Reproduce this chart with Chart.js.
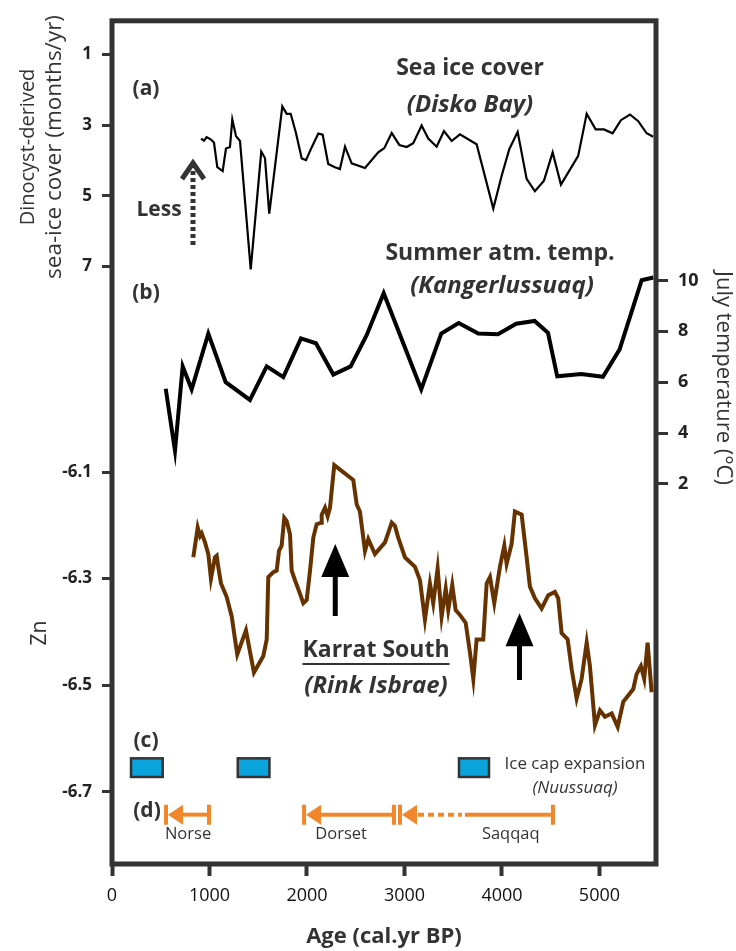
<!DOCTYPE html>
<html>
<head>
<meta charset="utf-8">
<script src="https://cdn.jsdelivr.net/npm/chart.js@4.4.1/dist/chart.umd.min.js"></script>
<style>
  html, body { margin: 0; padding: 0; background: #fff; }
  #wrap { width: 736px; height: 951px; }
</style>
</head>
<body>
<div id="wrap"><canvas id="proxyChart" width="736" height="951"></canvas></div>
<script>
// (a) dinocyst sea-ice cover, Disko Bay (months/yr)
const iceAge = [913, 944, 971, 1012, 1046, 1080, 1135, 1169, 1210, 1234, 1272, 1313, 1423, 1531, 1569, 1613,
  1747, 1792, 1833, 1887, 1946, 1990, 2048, 2116, 2161, 2218, 2287, 2338, 2390, 2458, 2595, 2731, 2793, 2869,
  2947, 3022, 3090, 3176, 3244, 3330, 3405, 3484, 3569, 3740, 3911, 3997, 4075, 4161, 4253, 4338, 4431, 4520,
  4605, 4782, 4869, 4961, 5046, 5135, 5220, 5313, 5398, 5484, 5552];
const iceCover = [3.38, 3.44, 3.34, 3.40, 3.49, 4.19, 4.30, 3.66, 3.62, 2.84, 3.31, 3.45, 7.08, 3.75, 3.93, 5.50,
  2.47, 2.68, 2.68, 3.22, 3.94, 3.99, 3.63, 3.24, 3.27, 4.10, 4.19, 4.24, 3.61, 4.08, 4.21, 3.77, 3.65, 3.22,
  3.56, 3.62, 3.51, 3.01, 3.38, 3.61, 3.17, 3.45, 3.26, 3.54, 5.36, 4.43, 3.68, 3.19, 4.52, 4.87, 4.57, 3.77,
  4.68, 3.87, 2.68, 3.12, 3.12, 3.23, 2.86, 2.70, 2.89, 3.23, 3.33];

// (b) July temperature, Kangerlussuaq (°C)
const tempAge = [551, 646, 725, 817, 988, 1166, 1415, 1587, 1757, 1938, 2092, 2270, 2448, 2612, 2787, 3172,
  3377, 3556, 3757, 3959, 4146, 4335, 4472, 4567, 4813, 5036, 5207, 5433, 5552];
const julyTemp = [5.74, 3.3, 6.62, 5.72, 7.91, 6.00, 5.30, 6.62, 6.20, 7.72, 7.53, 6.30, 6.62, 7.85, 9.50, 5.72,
  7.91, 8.33, 7.91, 7.89, 8.30, 8.41, 7.94, 6.23, 6.32, 6.21, 7.29, 10.01, 10.12];

// Karrat South (Rink Isbrae) Zn
const znAge = [834, 879, 903, 920, 954, 988, 1015, 1056, 1074, 1090, 1118, 1176, 1228, 1262, 1285, 1374, 1456,
  1552, 1587, 1603, 1654, 1689, 1713, 1740, 1767, 1792, 1826, 1843, 1877, 1928, 1962, 1997, 2031, 2065, 2099,
  2144, 2151, 2185, 2212, 2236, 2280, 2475, 2510, 2543, 2595, 2629, 2697, 2800, 2869, 2902, 2936, 3005, 3039,
  3108, 3159, 3210, 3261, 3295, 3340, 3381, 3423, 3449, 3490, 3525, 3569, 3628, 3672, 3706, 3740, 3808, 3843,
  3877, 3921, 3979, 4024, 4048, 4099, 4133, 4202, 4253, 4287, 4338, 4407, 4475, 4543, 4577, 4612, 4674, 4715,
  4766, 4817, 4869, 4902, 4954, 5005, 5056, 5125, 5187, 5244, 5295, 5347, 5381, 5425, 5459, 5494, 5535];
const znValue = [-6.260, -6.204, -6.220, -6.215, -6.232, -6.254, -6.300, -6.260, -6.257, -6.278, -6.309, -6.334,
  -6.371, -6.414, -6.442, -6.397, -6.476, -6.445, -6.414, -6.297, -6.288, -6.285, -6.248, -6.238, -6.186,
  -6.192, -6.217, -6.285, -6.303, -6.328, -6.346, -6.340, -6.285, -6.223, -6.198, -6.195, -6.180, -6.167,
  -6.183, -6.167, -6.087, -6.115, -6.161, -6.174, -6.248, -6.226, -6.254, -6.232, -6.195, -6.201, -6.223,
  -6.260, -6.266, -6.278, -6.303, -6.377, -6.309, -6.346, -6.281, -6.371, -6.319, -6.359, -6.312, -6.359,
  -6.368, -6.383, -6.439, -6.488, -6.414, -6.414, -6.309, -6.297, -6.346, -6.278, -6.238, -6.272, -6.235,
  -6.174, -6.180, -6.260, -6.315, -6.337, -6.356, -6.331, -6.325, -6.337, -6.402, -6.414, -6.470, -6.525,
  -6.488, -6.420, -6.464, -6.575, -6.547, -6.559, -6.553, -6.578, -6.531, -6.519, -6.507, -6.479, -6.464,
  -6.488, -6.420, -6.513];

// (c) ice cap expansion, (d) cultural periods
const iceCapStart = [195, 1290];
const iceCapEnd = [520, 1615];
const cultureNames = ['Norse', 'Dorset', 'Saqqaq'];
const cultureStart = [554, 1970, 2954];
const cultureEnd = [995, 2892, 4523];
const cultureDottedTo = [null, null, 3620];
const cultureLabelAge = [780, 2350, 4090];

const ageTicks = [0, 1000, 2000, 3000, 4000, 5000];
const iceTicks = [1, 3, 5, 7];
const znTicks = [-6.1, -6.3, -6.5, -6.7];
const tempTicks = [2, 4, 6, 8, 10];

const ICE_MIN = 0.051, ICE_MAX = 23.885;
const ZN_MIN = -6.8352, ZN_MAX = -5.2537;
const FONT = "'Open Sans', 'Noto Sans', sans-serif";
const INK = '#333';
const ORANGE = '#f0872a';
const BLUE = '#0aa3dc';

function iceToZn(v) {
  const f = (v - ICE_MIN) / (ICE_MAX - ICE_MIN);
  return ZN_MAX - f * (ZN_MAX - ZN_MIN);
}

function pairs(xs, ys) {
  return xs.map((x, i) => ({ x: x, y: ys[i] }));
}

function text(ctx, str, x, y, font, rot) {
  ctx.save();
  ctx.translate(x, y);
  if (rot) ctx.rotate(rot);
  ctx.font = font;
  ctx.fillStyle = INK;
  ctx.textAlign = 'center';
  ctx.textBaseline = 'middle';
  ctx.fillText(str, 0, 0);
  ctx.restore();
}

function upArrow(ctx, x, yTop, yBottom) {
  ctx.save();
  ctx.fillStyle = '#000';
  ctx.strokeStyle = '#000';
  ctx.lineWidth = 5;
  ctx.beginPath();
  ctx.moveTo(x, yBottom);
  ctx.lineTo(x, yTop + 28);
  ctx.stroke();
  ctx.beginPath();
  ctx.moveTo(x, yTop);
  ctx.lineTo(x - 14, yTop + 33);
  ctx.lineTo(x + 14, yTop + 33);
  ctx.closePath();
  ctx.fill();
  ctx.restore();
}

const annotations = {
  id: 'annotations',
  afterDatasetsDraw(chart) {
    const ctx = chart.ctx;
    const xs = chart.scales.x;
    const zn = chart.scales.yL;
    const area = chart.chartArea;

    // panel labels and series titles
    text(ctx, '(a)', 146, 89, 'bold 21px ' + FONT);
    text(ctx, '(b)', 146, 293, 'bold 21px ' + FONT);
    text(ctx, '(c)', 146, 741, 'bold 21px ' + FONT);
    text(ctx, '(d)', 147, 811, 'bold 21px ' + FONT);
    text(ctx, 'Sea ice cover', 470, 68, 'bold 23px ' + FONT);
    text(ctx, '(Disko Bay)', 470, 105, 'italic bold 24px ' + FONT);
    text(ctx, 'Summer atm. temp.', 500, 253, 'bold 23px ' + FONT);
    text(ctx, '(Kangerlussuaq)', 502, 286, 'italic bold 24px ' + FONT);
    text(ctx, 'Karrat South', 376, 650, 'bold 23px ' + FONT);
    text(ctx, '(Rink Isbrae)', 376, 686, 'italic bold 24px ' + FONT);
    ctx.save();
    ctx.font = 'bold 23px ' + FONT;
    const w = ctx.measureText('Karrat South').width;
    ctx.fillStyle = INK;
    ctx.fillRect(376 - w / 2, 663, w, 2);
    ctx.restore();

    // "Less" dotted arrow
    text(ctx, 'Less', 159, 210, 'bold 21px ' + FONT);
    ctx.save();
    ctx.strokeStyle = INK;
    ctx.lineWidth = 5;
    ctx.setLineDash([4, 3]);
    ctx.beginPath();
    ctx.moveTo(193, 245);
    ctx.lineTo(193, 166);
    ctx.stroke();
    ctx.setLineDash([]);
    ctx.beginPath();
    ctx.moveTo(182, 179);
    ctx.lineTo(193, 163);
    ctx.lineTo(204, 179);
    ctx.stroke();
    ctx.restore();

    // Zn arrows
    upArrow(ctx, xs.getPixelForValue(2290), zn.getPixelForValue(-6.235), zn.getPixelForValue(-6.37));
    upArrow(ctx, xs.getPixelForValue(4180), zn.getPixelForValue(-6.365), zn.getPixelForValue(-6.49));

    // (c) ice cap expansion boxes
    const bTop = zn.getPixelForValue(-6.637), bBot = zn.getPixelForValue(-6.672);
    ctx.save();
    ctx.fillStyle = BLUE;
    ctx.strokeStyle = INK;
    ctx.lineWidth = 2.5;
    iceCapStart.forEach((s, i) => {
      const x0 = xs.getPixelForValue(s), x1 = xs.getPixelForValue(iceCapEnd[i]);
      ctx.fillRect(x0, bTop, x1 - x0, bBot - bTop);
      ctx.strokeRect(x0, bTop, x1 - x0, bBot - bTop);
    });
    ctx.fillRect(459, bTop, 30, bBot - bTop);
    ctx.strokeRect(459, bTop, 30, bBot - bTop);
    ctx.restore();
    text(ctx, 'Ice cap expansion', 575, 764, '17px ' + FONT);
    text(ctx, '(Nuussuaq)', 575, 788, 'italic 17px ' + FONT);

    // (d) cultural periods
    const yRow = zn.getPixelForValue(-6.7426);
    const yLab = zn.getPixelForValue(-6.780);
    ctx.save();
    ctx.strokeStyle = ORANGE;
    ctx.fillStyle = ORANGE;
    ctx.lineWidth = 4;
    cultureNames.forEach((name, i) => {
      const x0 = xs.getPixelForValue(cultureStart[i]);
      const x1 = xs.getPixelForValue(cultureEnd[i]);
      ctx.beginPath();
      ctx.moveTo(x0, yRow - 10); ctx.lineTo(x0, yRow + 10);
      ctx.moveTo(x1, yRow - 10); ctx.lineTo(x1, yRow + 10);
      ctx.stroke();
      ctx.beginPath();
      ctx.moveTo(x0 + 2, yRow);
      ctx.lineTo(x0 + 17, yRow - 10);
      ctx.lineTo(x0 + 17, yRow + 10);
      ctx.closePath();
      ctx.fill();
      let xs0 = x0 + 16;
      if (cultureDottedTo[i] !== null) {
        const xd = xs.getPixelForValue(cultureDottedTo[i]);
        ctx.setLineDash([6, 4]);
        ctx.beginPath();
        ctx.moveTo(xs0 + 2, yRow); ctx.lineTo(xd - 3, yRow);
        ctx.stroke();
        ctx.setLineDash([]);
        xs0 = xd;
      }
      ctx.beginPath();
      ctx.moveTo(xs0, yRow); ctx.lineTo(x1, yRow);
      ctx.stroke();
      text(ctx, name, xs.getPixelForValue(cultureLabelAge[i]), yLab, '16.5px ' + FONT);
    });
    ctx.restore();

    // axis titles
    text(ctx, 'Dinocyst-derived', 28, 147, '20px ' + FONT, -Math.PI / 2);
    text(ctx, 'sea-ice cover (months/yr)', 55, 147, '22.5px ' + FONT, -Math.PI / 2);
    text(ctx, 'Zn', 40, 633, '21px ' + FONT, -Math.PI / 2);
    text(ctx, 'July temperature (°C)', 723, 378, '22px ' + FONT, Math.PI / 2);

    // frame
    ctx.save();
    ctx.strokeStyle = INK;
    ctx.lineWidth = 5;
    ctx.strokeRect(area.left, area.top, area.right - area.left, area.bottom - area.top);
    ctx.restore();
  }
};

function tickGrid(len, width) {
  return { drawOnChartArea: false, drawTicks: true, tickLength: len, tickWidth: width, tickColor: INK };
}

new Chart(document.getElementById('proxyChart'), {
  type: 'line',
  data: {
    datasets: [
      { label: 'Sea ice cover', data: pairs(iceAge, iceCover), yAxisID: 'yIce',
        borderColor: '#000', borderWidth: 2.2, pointRadius: 0, tension: 0 },
      { label: 'Summer atm. temp.', data: pairs(tempAge, julyTemp), yAxisID: 'yT',
        borderColor: '#000', borderWidth: 4, pointRadius: 0, tension: 0 },
      { label: 'Karrat South Zn', data: pairs(znAge, znValue), yAxisID: 'yL',
        borderColor: '#663300', borderWidth: 4, pointRadius: 0, tension: 0 }
    ]
  },
  options: {
    responsive: false,
    animation: false,
    layout: { padding: { top: 10, left: 0, right: 0, bottom: 0 } },
    plugins: { legend: { display: false }, tooltip: { enabled: false } },
    scales: {
      x: {
        type: 'linear', position: 'bottom', min: 0, max: 5580,
        afterFit(s) { s.height = 87; },
        afterBuildTicks(s) { s.ticks = ageTicks.map(v => ({ value: v })); },
        ticks: { padding: 9, color: '#111', font: { family: FONT, size: 18 }, maxRotation: 0,
          callback: v => String(v) },
        grid: tickGrid(12, 4),
        border: { display: false },
        title: { display: true, text: 'Age (cal.yr BP)', color: INK,
          font: { family: FONT, size: 22, weight: 'bold' }, padding: { top: 0, bottom: 1 } }
      },
      yL: {
        type: 'linear', position: 'left', min: ZN_MIN, max: ZN_MAX,
        afterFit(s) { s.width = 112; },
        afterBuildTicks(s) {
          const t = iceTicks.map(v => ({ value: iceToZn(v), text: String(v) }))
            .concat(znTicks.map(v => ({ value: v, text: v.toFixed(1) })));
          s.ticks = t.sort((a, b) => a.value - b.value);
        },
        ticks: { autoSkip: false, padding: 10, color: '#222',
          font: { family: FONT, size: 17, weight: 'bold' },
          callback: (v, i, ticks) => ticks[i].text },
        grid: tickGrid(10, 3),
        border: { display: false }
      },
      yIce: { type: 'linear', display: false, reverse: true, min: ICE_MIN, max: ICE_MAX },
      yT: {
        type: 'linear', position: 'right', min: -12.951, max: 20.214,
        afterFit(s) { s.width = 80; },
        afterBuildTicks(s) { s.ticks = tempTicks.map(v => ({ value: v })); },
        ticks: { autoSkip: false, padding: 10, color: '#222',
          font: { family: FONT, size: 18, weight: 'bold' } },
        grid: tickGrid(12, 3),
        border: { display: false }
      }
    }
  },
  plugins: [annotations]
});
</script>
</body>
</html>
